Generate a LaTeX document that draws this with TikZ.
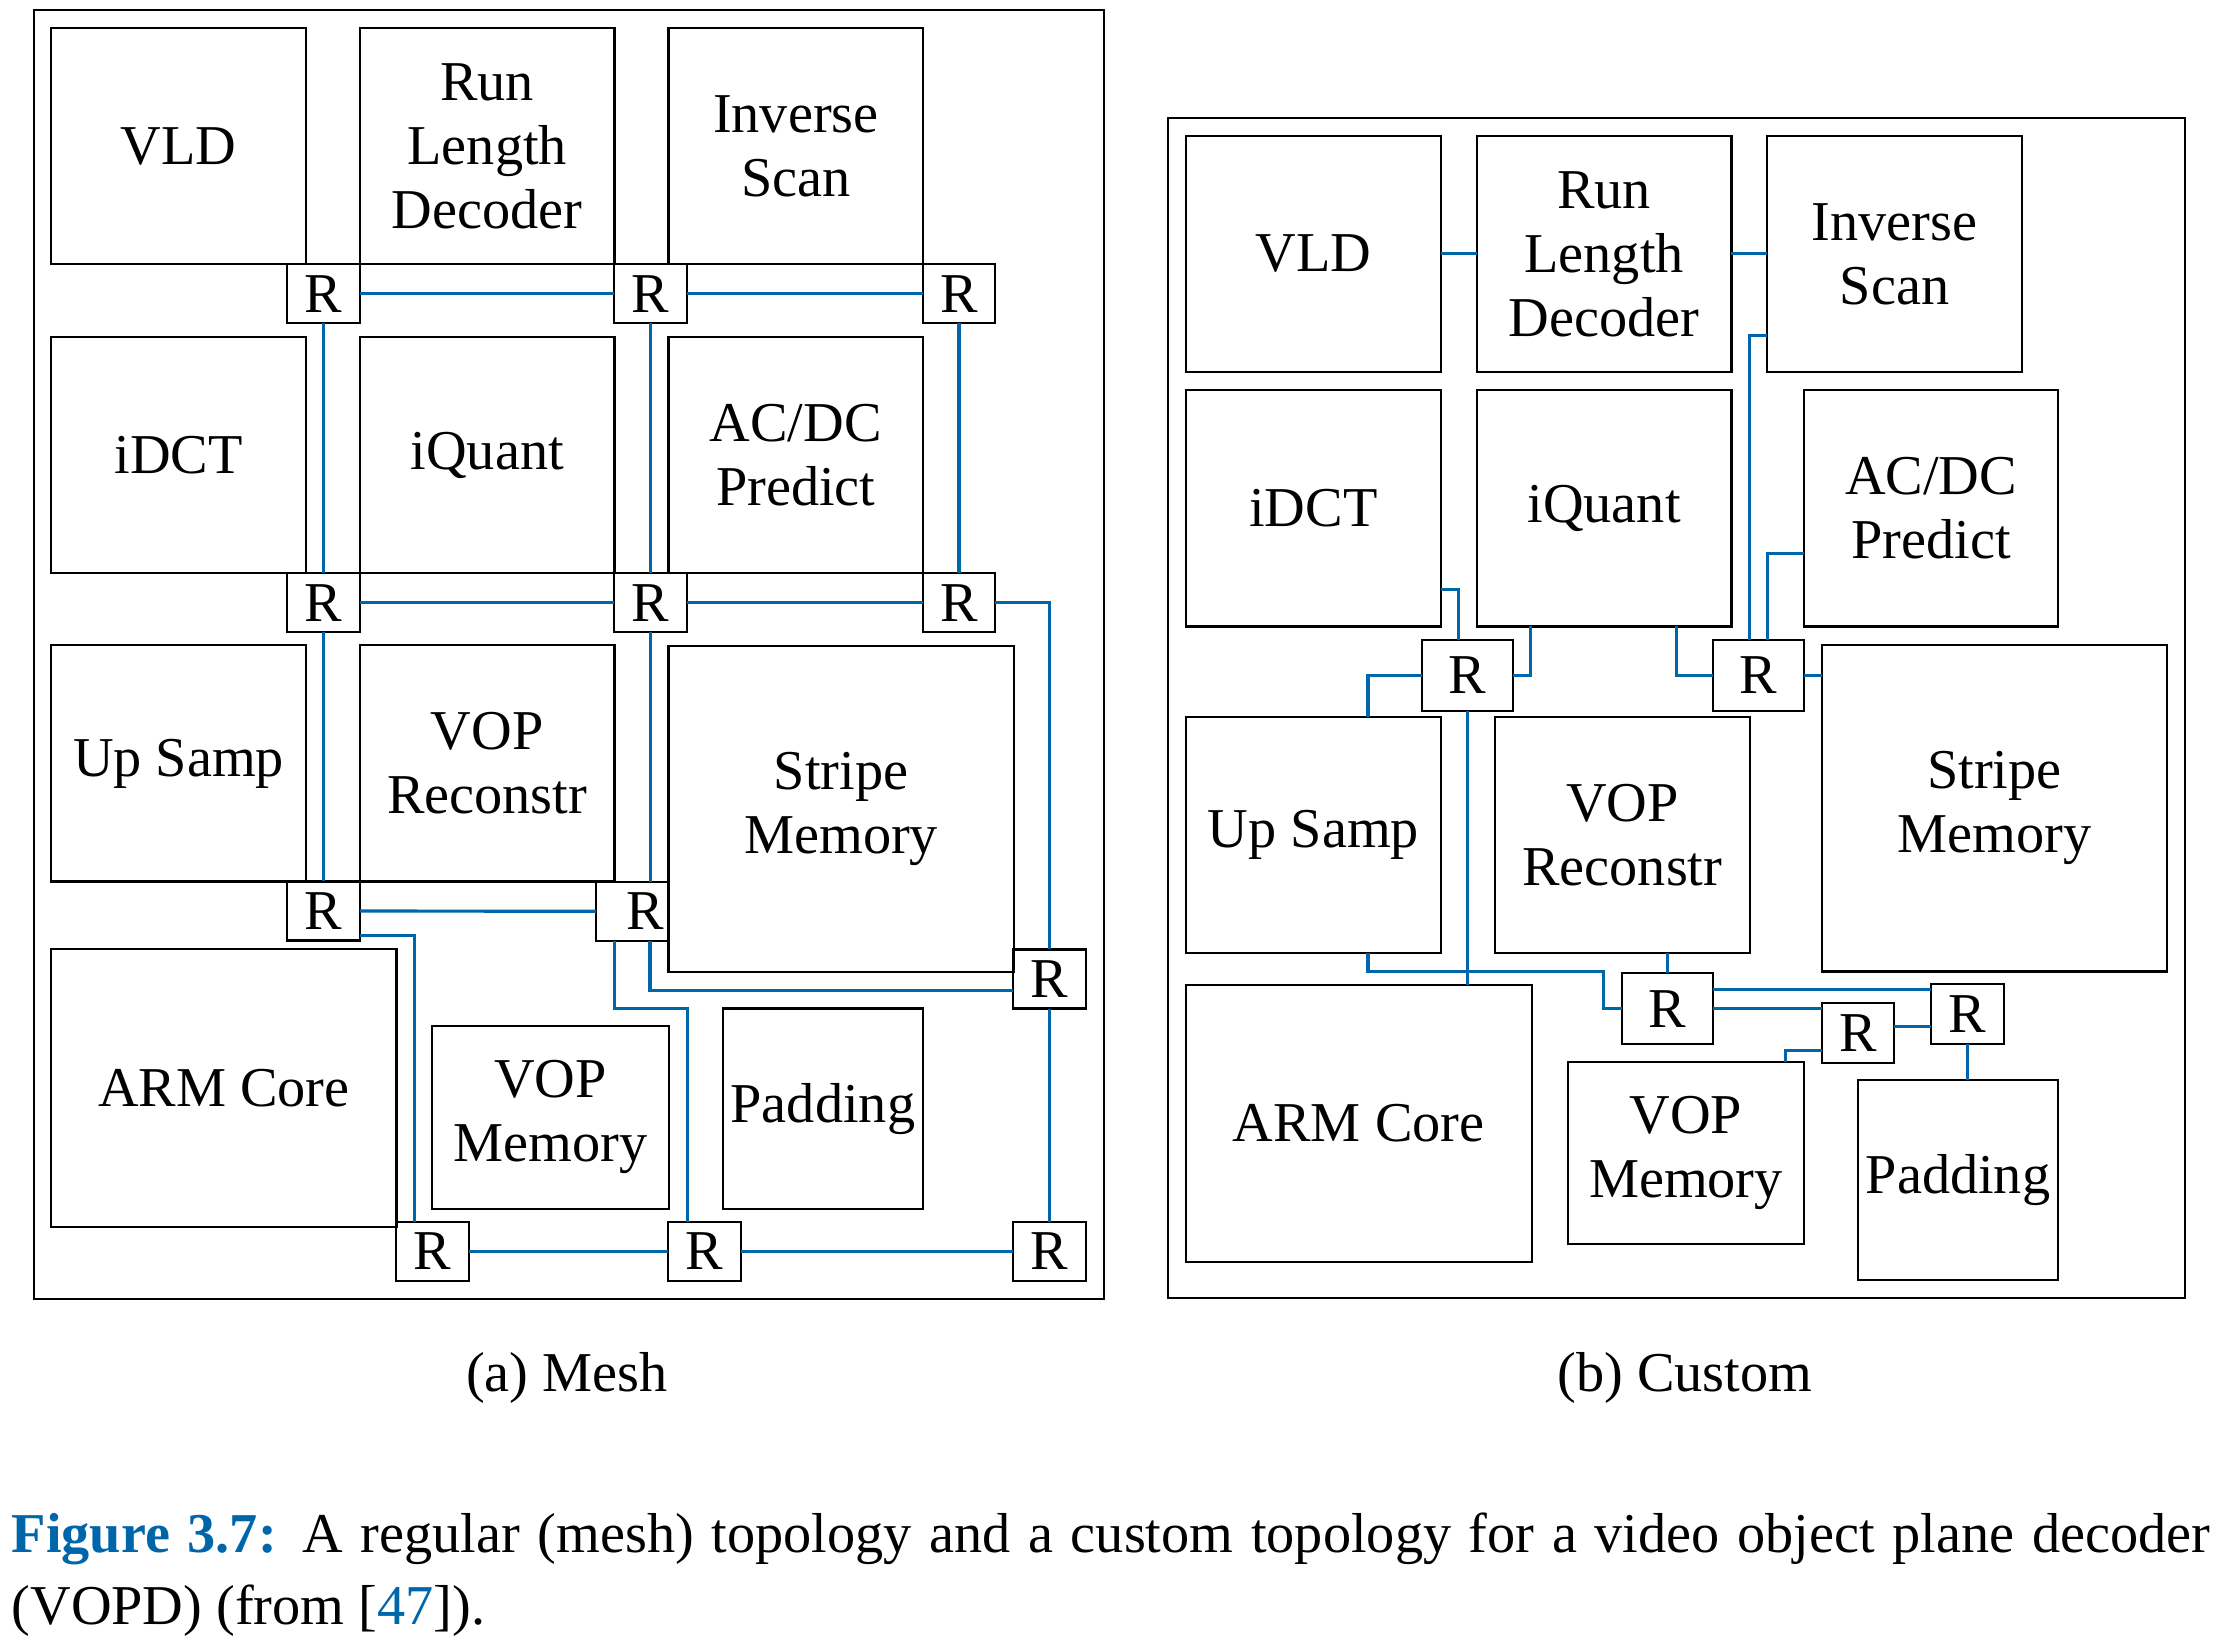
\documentclass[tikz,border=0pt]{standalone}
\usepackage{fontspec}
\setmainfont{Liberation Serif}
\definecolor{linkblue}{RGB}{0,102,170}
\begin{document}
\begin{tikzpicture}[x=0.01cm,y=-0.01cm,
  font=\fontsize{16pt}{18.2pt}\selectfont,
  blk/.style={draw,line width=0.6pt,inner sep=0pt,outer sep=0pt,align=center,
    minimum width=2.545cm,minimum height=2.36cm},
  rbox/.style={draw,line width=0.6pt,inner sep=0pt,outer sep=0pt,
    minimum width=0.725cm,minimum height=0.59cm},
  rbig/.style={rbox,minimum width=0.91cm,minimum height=0.71cm},
  link/.style={linkblue,line width=0.9pt}]
\useasboundingbox (0,0) rectangle (2219,1649);

% (a) mesh
\draw[line width=0.6pt] (33.6,10) rectangle (1103.6,1299.2);
\node[blk] (mvld) at (178.6,146.3) {VLD};
\node[blk] (mrld) at (487.2,146.3) {Run\\Length\\Decoder};
\node[blk] (mis) at (795.8,146.3) {Inverse\\Scan};
\node[blk] (midct) at (178.6,455) {iDCT};
\node[blk] (miq) at (487.2,455) {iQuant};
\node[blk] (macdc) at (795.8,455) {AC/DC\\Predict};
\node[blk] (mups) at (178.6,763.4) {Up Samp};
\node[blk] (mvopr) at (487.2,763.4) {VOP\\Reconstr};
\node[blk,minimum width=3.45cm,minimum height=3.26cm] (mstripe) at (841.1,808.7) {Stripe\\Memory};
\node[blk,minimum width=3.45cm,minimum height=2.77cm] (marm) at (223.9,1088) {ARM Core};
\node[blk,minimum width=2.366cm,minimum height=1.826cm] (mvopm) at (550.3,1117.3) {VOP\\Memory};
\node[blk,minimum width=2cm,minimum height=2cm] (mpad) at (822.9,1108.6) {Padding};

\node[rbox] (mr11) at (323.5,293.8) {R};
\node[rbox] (mr12) at (650.7,293.8) {R};
\node[rbox] (mr13) at (959,293.8) {R};
\node[rbox] (mr21) at (323.5,602.7) {R};
\node[rbox] (mr22) at (650.7,602.7) {R};
\node[rbox] (mr23) at (959,602.7) {R};
\node[rbox] (mr31) at (323.5,911) {R};
\node[rbox] (mr32) at (632.2,911.3) {\hspace*{0.26cm}R};
\node[rbox] (mrsm) at (1049.6,979) {R};
\node[rbox] (mrb1) at (432.5,1251.3) {R};
\node[rbox] (mrb2) at (704.6,1251.3) {R};
\node[rbox] (mrb3) at (1049.6,1251.3) {R};

\draw[link] (mr11.east) -- (mr12.west);
\draw[link] (mr12.east) -- (mr13.west);
\draw[link] (mr21.east) -- (mr22.west);
\draw[link] (mr22.east) -- (mr23.west);
\draw[link] (mr31.east) -- (mr32.west);
\draw[link] (mrb1.east) -- (mrb2.west);
\draw[link] (mrb2.east) -- (mrb3.west);
\draw[link] (mr11.south) -- (mr21.north);
\draw[link] (mr12.south) -- (mr22.north);
\draw[link] (mr13.south) -- (mr23.north);
\draw[link] (mr21.south) -- (mr31.north);
\draw[link] (mr22.south) -- (mr22.south |- mr32.north);
\draw[link] (mr23.east) -| (mrsm.north);
\draw[link] (mrsm.south) -- (mrb3.north);
\draw[link] (mr31.east |- 0,935.4) -| (414.3,0 |- mrb1.north);
\draw[link] (650,0 |- mr32.south) |- (mrsm.west |- 0,990.6);
\draw[link] (614.3,0 |- mr32.south) |- (687.1,1008.5) -- (687.1,0 |- mrb2.north);

% (b) custom
\draw[line width=0.6pt] (1168.1,117.6) rectangle (2185.3,1297.7);
\node[blk] (cvld) at (1313.4,253.9) {VLD};
\node[blk] (crld) at (1604.1,253.9) {Run\\Length\\Decoder};
\node[blk] (cis) at (1894.5,253.9) {Inverse\\Scan};
\node[blk] (cidct) at (1313.4,508.4) {iDCT};
\node[blk] (ciq) at (1604.1,508.4) {iQuant};
\node[blk] (cacdc) at (1931,508.4) {AC/DC\\Predict};
\node[blk] (cups) at (1313.4,835) {Up Samp};
\node[blk] (cvopr) at (1622.3,835) {VOP\\Reconstr};
\node[blk,minimum width=3.451cm,minimum height=3.267cm] (cstripe) at (1994.5,808) {Stripe\\Memory};
\node[blk,minimum width=3.458cm,minimum height=2.773cm] (carm) at (1358.6,1123.4) {ARM Core};
\node[blk,minimum width=2.357cm,minimum height=1.816cm] (cvopm) at (1685.9,1152.8) {VOP\\Memory};
\node[blk,minimum width=2.006cm,minimum height=2cm] (cpad) at (1958,1179.8) {Padding};

\node[rbig] (crl) at (1467.6,675.5) {R};
\node[rbig] (crr) at (1758.1,675.5) {R};
\node[rbig] (crc) at (1667.6,1008.9) {R};
\node[rbox,minimum height=0.6cm] (crd) at (1858,1033) {R};
\node[rbox,minimum height=0.6cm] (cre) at (1967.5,1014.4) {R};

\draw[link] (cvld.east) -- (crld.west);
\draw[link] (crld.east) -- (cis.west);
\draw[link] (cis.west |- 0,335.5) -| (1749.6,0 |- crr.north);
\draw[link] (cacdc.west |- 0,553.5) -| (1767.2,0 |- crr.north);
\draw[link] (cidct.east |- 0,589.4) -| (1458.5,0 |- crl.north);
\draw[link] (crl.east) -| (1530.8,0 |- ciq.south);
\draw[link] (crr.west) -| (1676.7,0 |- ciq.south);
\draw[link] (crr.east) -- (crr.east -| cstripe.west);
\draw[link] (crl.west) -| (1368,0 |- cups.north);
\draw[link] (crl.south) -- (crl.south |- carm.north);
\draw[link] (1368,0 |- cups.south) |- (1603.7,971.3) |- (crc.west);
\draw[link] (crc.north) -- (crc.north |- cvopr.south);
\draw[link] (crc.east |- 0,989.6) -- (cre.west |- 0,989.6);
\draw[link] (crc.east) -- (crc.east -| crd.west);
\draw[link] (crd.east |- 0,1026.3) -- (cre.west |- 0,1026.3);
\draw[link] (crd.west |- 0,1050.8) -| (1785.4,0 |- cvopm.north);
\draw[link] (cre.south) -- (cre.south |- cpad.north);

% captions
\node[anchor=base] (capa) at (567,1391) {(a) Mesh};
\node[anchor=base] (capb) at (1685,1391) {(b) Custom};
\node[anchor=base west,inner sep=0pt] (figa) at (11,1552) {\makebox[21.97cm][s]{\textcolor{linkblue}{\textbf{Figure 3.7:}} A regular (mesh) topology and a custom topology for a video object plane decoder}};
\node[anchor=base west,inner sep=0pt] (figb) at (11,1624) {(VOPD) (from [\textcolor{linkblue}{47}]).};
\end{tikzpicture}
\end{document}
